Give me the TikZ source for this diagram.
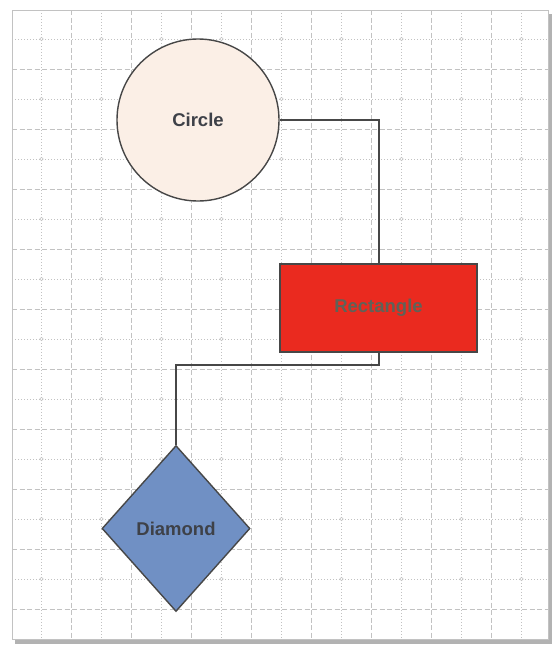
\documentclass[tikz,border=0pt]{standalone}
\usepackage{fontspec}
\setmainfont{Liberation Sans}
\usetikzlibrary{shapes.geometric}
\definecolor{gridc}{HTML}{C2C2C2}
\definecolor{edgec}{HTML}{474747}
\definecolor{circfill}{HTML}{FBEFE6}
\definecolor{rectfill}{HTML}{EA2A1F}
\definecolor{diafill}{HTML}{7090C4}
\definecolor{recttext}{HTML}{5F6258}
\definecolor{darktext}{HTML}{3E4148}
\begin{document}
\begin{tikzpicture}[x=1pt,y=-1pt,
  minorline/.style={gridc, line width=0.8pt, dash pattern=on 1.2pt off 1.8pt},
  majorline/.style={gridc, line width=0.9pt, dash pattern=on 5pt off 2.5pt},
  shapebox/.style={draw=edgec, line width=1.4pt, font=\bfseries\fontsize{18.5}{22}\selectfont, inner sep=0pt},
  link/.style={draw=edgec, line width=2pt}]
\useasboundingbox (0,0) rectangle (552,646);
\fill[white] (0,0) rectangle (552,646);
% shadow and sheet
\fill[black!30] (15,14) rectangle (552,644);
\fill[white] (12,10) rectangle (548,639);
% grid
\foreach \x in {41.5,101.5,...,521.5} \draw[minorline] (\x,10) -- (\x,639);
\foreach \x in {71.5,131.5,...,491.5} \draw[majorline] (\x,10) -- (\x,639);
\foreach \y in {39,99,...,579} \draw[minorline] (12,\y) -- (548,\y);
\foreach \y in {69,129,...,609} \draw[majorline] (12,\y) -- (548,\y);
\foreach \x in {41.5,101.5,...,521.5}
  \foreach \y in {39,99,...,579}
    \draw[gridc, line width=0.6pt] (\x,\y) circle (1.8pt);
\draw[gridc, line width=0.8pt] (12,10) rectangle (548,639);
% shapes
\node[shapebox, circle, fill=circfill, minimum size=162pt, text=darktext] (c) at (198,120) {Circle};
\node[shapebox, rectangle, fill=rectfill, minimum width=197pt, minimum height=88pt, text=recttext] (r) at (378.5,308) {Rectangle};
\node[shapebox, diamond, fill=diafill, minimum width=148pt, minimum height=166pt, text=darktext] (d) at (176,528.5) {Diamond};
% connectors
\draw[link] (c.east) -| (r.north);
\draw[link] (r.south) -- ++(0,12) -| (d.north);
\end{tikzpicture}
\end{document}
